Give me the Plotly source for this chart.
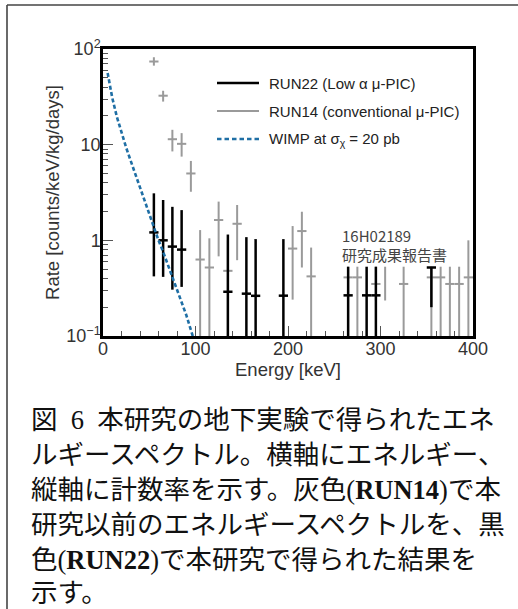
import plotly.graph_objects as go

# ---------------- data ----------------
# RUN14 (conventional u-PIC), grey
E_run14 = [55, 65, 75, 85, 95, 105, 115, 125, 135, 145, 205, 215, 225,
           265, 275, 295, 305, 325, 355, 365, 375, 385, 395]
R_run14 = [74, 32.5, 11.4, 10.2, 5.0, 0.63, 0.52, 1.63, 0.48, 1.49, 0.82, 1.25, 0.42,
           0.41, 0.41, 0.35, 0.35, 0.35, 0.41, 0.41, 0.35, 0.35, 0.41]
HI_run14 = [82, 36.6, 14.3, 13.2, 6.76, 1.28, 1.05, 2.54, 1.0, 2.34, 1.41, 1.99, 0.84,
            0.53, 0.53, 0.53, 0.53, 0.53, 0.53, 0.53, 0.53, 0.53, 1.0]
LO_run14 = [67, 28.2, 8.5, 7.5, 3.22, 0.05, 0.05, 0.68, 0.05, 0.62, 0.24, 0.52, 0.05,
            0.05, 0.05, 0.235, 0.235, 0.05, 0.05, 0.05, 0.05, 0.05, 0.05]
BIN_run14 = [5, 5, 5, 5, 5, 5, 5, 5, 5, 5, 5, 5, 5,
             5, 5, 5, 0, 5, 5, 5, 5, 5, 5]

# RUN22 (Low alpha u-PIC), black
E_run22 = [55, 65, 75, 85, 135, 155, 165, 195, 265, 285, 295, 355]
R_run22 = [1.21, 1.00, 0.86, 0.80, 0.29, 0.277, 0.263, 0.264, 0.266, 0.266, 0.266, 0.52]
HI_run22 = [3.10, 2.64, 2.24, 2.07, 1.15, 1.08, 1.03, 1.03, 0.53, 0.53, 0.53, 0.52]
LO_run22 = [0.42, 0.415, 0.305, 0.326, 0.05, 0.05, 0.05, 0.05, 0.05, 0.05, 0.05, 0.20]
BIN_run22 = [5, 5, 5, 5, 5, 5, 5, 5, 5, 5, 5, 5]

# WIMP expectation at sigma_chi = 20 pb
E_wimp = [5, 10, 15, 20, 25, 30, 35, 40, 45, 50, 55, 60, 65, 70, 75, 80, 85, 90, 97, 100]
R_wimp = [56.2, 30.9, 19.5, 13.2, 9.33, 6.76, 4.90, 3.55, 2.63, 1.86, 1.32, 1.00,
          0.759, 0.562, 0.417, 0.309, 0.229, 0.166, 0.100, 0.085]

Y_TICKVALS = [0.1, 1, 10, 100]
Y_TICKTEXT = ["10<sup>\u22121</sup>", "1", "10", "10<sup>2</sup>"]

LEGEND_LABELS = ["RUN22 (Low \u03b1 \u03bc-PIC)",
                 "RUN14 (conventional \u03bc-PIC)",
                 "WIMP at \u03c3<sub>\u03c7</sub> = 20 pb"]

NOTE_LINES = ["16H02189", "\u7814\u7a76\u6210\u679c\u5831\u544a\u66f8"]

CAPTION_LINES = [
    "\u56f3\u20026\u2002\u672c\u7814\u7a76\u306e\u5730\u4e0b\u5b9f\u9a13\u3067\u5f97\u3089\u308c\u305f\u30a8\u30cd",
    "\u30eb\u30ae\u30fc\u30b9\u30da\u30af\u30c8\u30eb\u3002\u6a2a\u8ef8\u306b\u30a8\u30cd\u30eb\u30ae\u30fc\u3001",
    "\u7e26\u8ef8\u306b\u8a08\u6570\u7387\u3092\u793a\u3059\u3002\u7070\u8272(<b>RUN14</b>)\u3067\u672c",
    "\u7814\u7a76\u4ee5\u524d\u306e\u30a8\u30cd\u30eb\u30ae\u30fc\u30b9\u30da\u30af\u30c8\u30eb\u3092\u3001\u9ed2",
    "\u8272(<b>RUN22</b>)\u3067\u672c\u7814\u7a76\u3067\u5f97\u3089\u308c\u305f\u7d50\u679c\u3092",
    "\u793a\u3059\u3002",
]

# ---------------- styling ----------------
W, H = 518, 609
L, R, T, B = 103, 473, 49, 336   # plot area in pixels
GRAY = "#9a9a9a"
BLACK = "#000000"
BLUE = "#1f6fa5"
SANS = "Liberation Sans, Arial, sans-serif"
CJK = "Noto Sans CJK JP, sans-serif"
SERIF_CJK = "Liberation Serif, Noto Sans CJK JP, serif"


def px_x(px):
    return (px - L) / (R - L)


def px_y(py):
    return (B - py) / (B - T)


up14 = [h - v for h, v in zip(HI_run14, R_run14)]
dn14 = [v - l for v, l in zip(R_run14, LO_run14)]
up22 = [h - v for h, v in zip(HI_run22, R_run22)]
dn22 = [v - l for v, l in zip(R_run22, LO_run22)]

fig = go.Figure()

fig.add_trace(go.Scatter(
    x=E_run14, y=R_run14, mode="markers",
    marker=dict(size=2, color=GRAY, opacity=0),
    error_y=dict(type="data", symmetric=False, array=up14, arrayminus=dn14,
                 color=GRAY, thickness=2, width=0),
    error_x=dict(type="data", array=BIN_run14, color=GRAY, thickness=2, width=0),
    showlegend=False, hoverinfo="skip"))

fig.add_trace(go.Scatter(
    x=E_run22, y=R_run22, mode="markers",
    marker=dict(size=2, color=BLACK, opacity=0),
    error_y=dict(type="data", symmetric=False, array=up22, arrayminus=dn22,
                 color=BLACK, thickness=2.5, width=0),
    error_x=dict(type="data", array=BIN_run22, color=BLACK, thickness=2.5, width=0),
    showlegend=False, hoverinfo="skip"))

fig.add_trace(go.Scatter(
    x=E_wimp, y=R_wimp, mode="lines",
    line=dict(color=BLUE, width=2.6, dash="4px,2.5px"),
    showlegend=False, hoverinfo="skip"))

minor_y = [m * 10 ** e for e in (-1, 0, 1) for m in range(2, 10)]

fig.update_layout(
    width=W, height=H,
    margin=dict(l=L, r=W - R, t=T, b=H - B, pad=0),
    paper_bgcolor="white", plot_bgcolor="white",
    showlegend=False,
    xaxis=dict(
        range=[0, 400], showline=True, linewidth=2.5, linecolor="black", mirror=True,
        ticks="inside", ticklen=10, tickwidth=1, tickcolor="#555", dtick=100, tick0=0,
        minor=dict(ticks="inside", ticklen=5, dtick=20, tickwidth=1, tickcolor="#555"),
        showgrid=False, zeroline=False, ticklabelstandoff=-5,
        tickfont=dict(family=SANS, size=18, color="#333"),
        title=dict(text="Energy [keV]", font=dict(family=SANS, size=18.5, color="#333"),
                   standoff=0),
    ),
    yaxis=dict(
        type="log", range=[-1, 2], showline=True, linewidth=2.5, linecolor="black",
        mirror=True, ticks="inside", ticklen=10, tickwidth=1, tickcolor="#555",
        tickvals=Y_TICKVALS, ticktext=Y_TICKTEXT, ticklabelstandoff=-4,
        minor=dict(ticks="inside", ticklen=5, tickvals=minor_y, tickwidth=1,
                   tickcolor="#555"),
        showgrid=False, zeroline=False,
        tickfont=dict(family=SANS, size=18, color="#333"),
        title=dict(text="Rate [counts/keV/kg/days]",
                   font=dict(family=SANS, size=18.5, color="#333"), standoff=2),
    ),
)

shapes = []
# page border (top and left)
shapes.append(dict(type="line", xref="paper", yref="paper",
                   x0=px_x(7), x1=px_x(W + 5), y0=px_y(5), y1=px_y(5),
                   line=dict(color="#444", width=1.6)))
shapes.append(dict(type="line", xref="paper", yref="paper",
                   x0=px_x(7), x1=px_x(7), y0=px_y(5), y1=px_y(H + 5),
                   line=dict(color="#444", width=1.6)))
# legend samples
leg_y = [83, 111, 139]
leg_styles = [dict(color=BLACK, width=2.5), dict(color=GRAY, width=2),
              dict(color=BLUE, width=2.6, dash="4.5px,3px")]
for yy, st in zip(leg_y, leg_styles):
    shapes.append(dict(type="line", xref="paper", yref="paper",
                       x0=px_x(217), x1=px_x(259), y0=px_y(yy), y1=px_y(yy), line=st))
fig.update_layout(shapes=shapes)

ann = []
for yy, txt in zip(leg_y, LEGEND_LABELS):
    ann.append(dict(xref="paper", yref="paper", x=px_x(267), y=px_y(yy),
                    xanchor="left", yanchor="middle", text=txt, showarrow=False,
                    font=dict(family=SANS, size=15, color="#222")))
for yy, txt in zip([235, 254], NOTE_LINES):
    ann.append(dict(xref="paper", yref="paper", x=px_x(340), y=px_y(yy),
                    xanchor="left", yanchor="middle", text=txt, showarrow=False,
                    font=dict(family=CJK, size=15, color="#444")))
cap_y = [420, 455, 490, 525, 560, 593]
for yy, txt in zip(cap_y, CAPTION_LINES):
    ann.append(dict(xref="paper", yref="paper", x=px_x(30), y=px_y(yy),
                    xanchor="left", yanchor="middle", text=txt, showarrow=False,
                    borderpad=0,
                    font=dict(family=SERIF_CJK, size=26.5, color="#111")))
fig.update_layout(annotations=ann)

fig.write_html("out.html",
               config={"displayModeBar": False},
               post_script="document.body.style.margin='0';"
                           "document.body.style.overflow='hidden';")
